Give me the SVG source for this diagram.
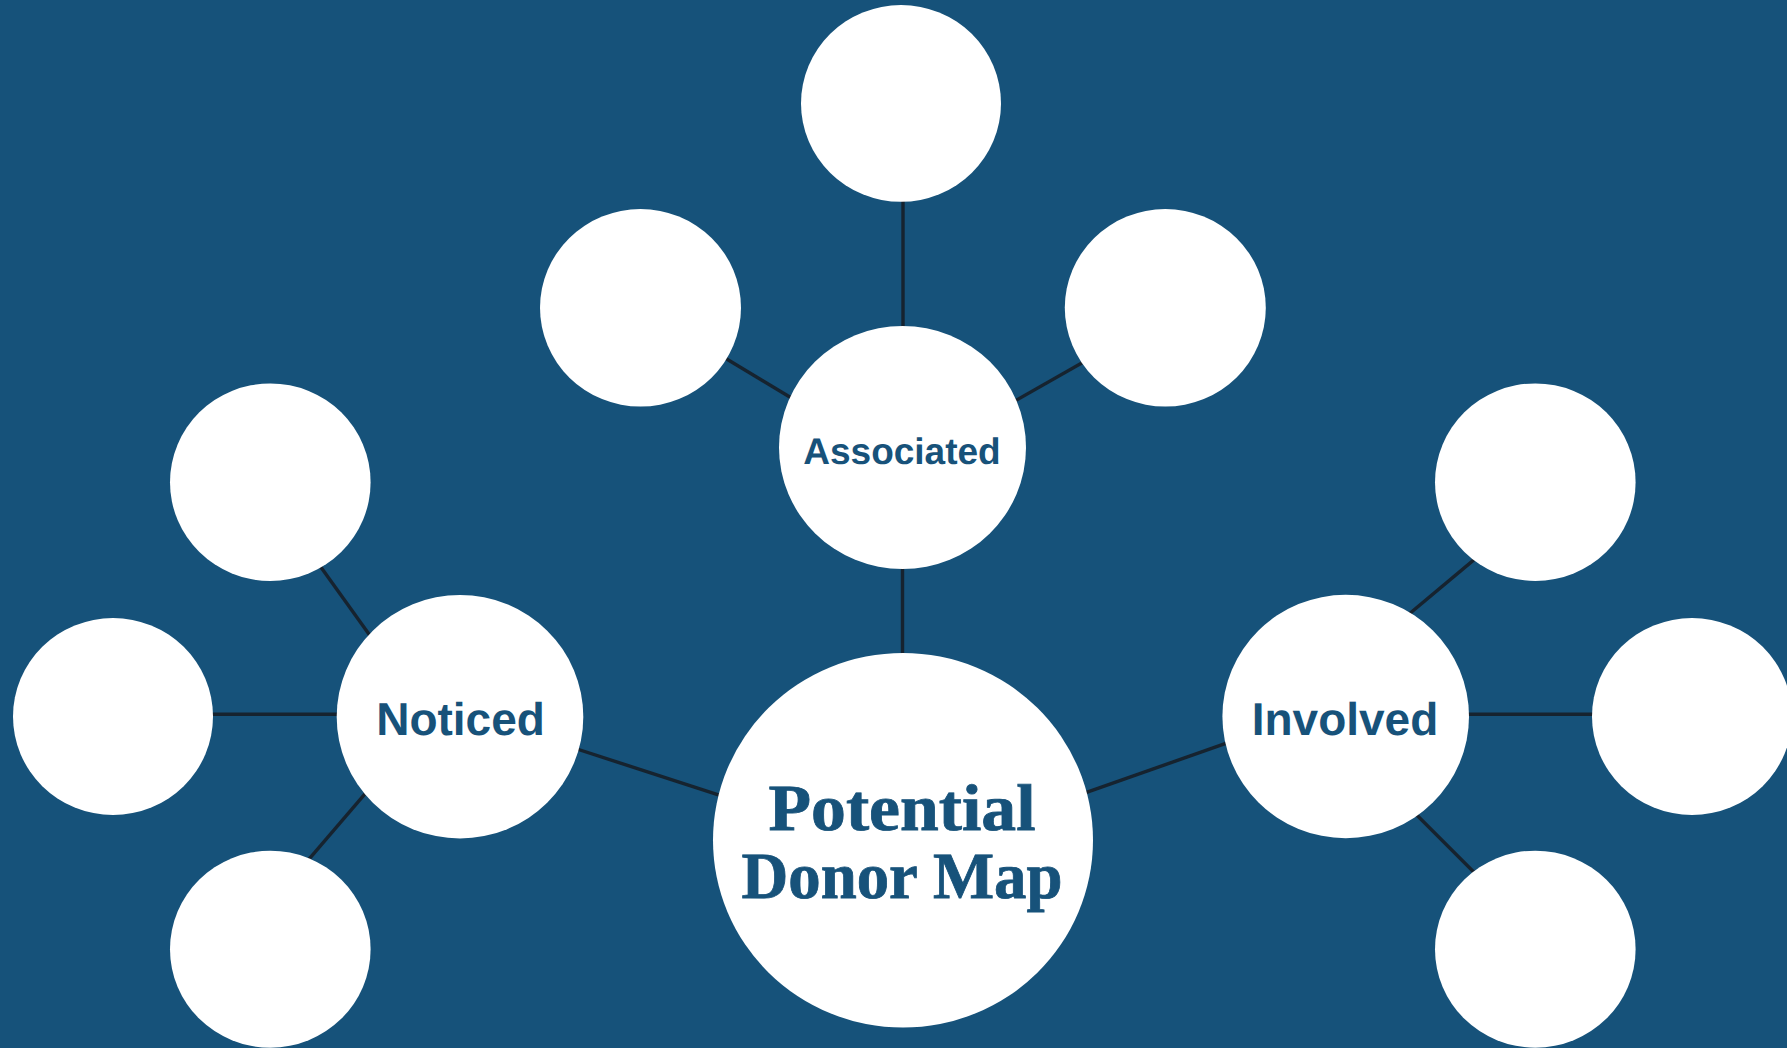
<svg xmlns="http://www.w3.org/2000/svg" width="1787" height="1048" viewBox="0 0 1787 1048">
  <style>
    .bg { fill: #16527a; }
    .node { fill: #ffffff; }
    .link { stroke: #16232f; stroke-width: 3.4; fill: none; }
    text { text-rendering: geometricPrecision; }
    .hub { font-family: "Liberation Sans", Arial, sans-serif; font-weight: bold; fill: #17527a; text-anchor: middle; }
    .title { font-family: "Liberation Serif", "Times New Roman", serif; font-weight: bold; fill: #17527a; stroke: #17527a; stroke-width: 0.8; text-anchor: middle; font-size: 66px; }
  </style>

  <rect class="bg" x="0" y="0" width="1787" height="1048"/>

  <!-- connectors; their ends are tucked under the circles -->
  <g id="connectors">
    <line class="link" x1="902.5" y1="800" x2="902.5" y2="500"/>
    <line class="link" x1="560" y1="743.5" x2="740" y2="801.9"/>
    <line class="link" x1="1068" y1="798.8" x2="1245" y2="736.7"/>
    <line class="link" x1="903" y1="400" x2="903" y2="150"/>
    <line class="link" x1="708" y1="347.7" x2="808" y2="408"/>
    <line class="link" x1="996" y1="411.7" x2="1102" y2="351.5"/>
    <line class="link" x1="307.7" y1="548.8" x2="382.3" y2="652.8"/>
    <line class="link" x1="160" y1="714.3" x2="400" y2="714.3"/>
    <line class="link" x1="293.8" y1="876.9" x2="380.2" y2="776.1"/>
    <line class="link" x1="1390" y1="630" x2="1490" y2="546.4"/>
    <line class="link" x1="1300" y1="714.3" x2="1640" y2="714.3"/>
    <line class="link" x1="1400" y1="798.3" x2="1490" y2="888.3"/>
  </g>

  <!-- central node -->
  <g id="potential-donor-map">
    <ellipse class="node" cx="903" cy="840.3" rx="190" ry="187.3"/>
    <text class="title" x="902" y="830" textLength="267" lengthAdjust="spacingAndGlyphs">Potential</text>
    <text class="title" x="902" y="898" textLength="321" lengthAdjust="spacingAndGlyphs">Donor Map</text>
  </g>

  <!-- second-level nodes -->
  <g id="associated">
    <ellipse class="node" cx="902.5" cy="447.5" rx="123.5" ry="121.5"/>
    <text class="hub" x="902" y="464" font-size="37">Associated</text>
  </g>
  <g id="noticed">
    <ellipse class="node" cx="460" cy="716.7" rx="123.3" ry="121.7"/>
    <text class="hub" x="460.5" y="735" font-size="46">Noticed</text>
  </g>
  <g id="involved">
    <ellipse class="node" cx="1345.7" cy="716.5" rx="123.3" ry="121.7"/>
    <text class="hub" x="1345" y="735" font-size="46">Involved</text>
  </g>

  <!-- empty leaf nodes -->
  <g id="associated-top"><ellipse class="node" cx="901" cy="103.4" rx="100" ry="98.4"/></g>
  <g id="associated-left"><ellipse class="node" cx="640.5" cy="307.8" rx="100.5" ry="98.8"/></g>
  <g id="associated-right"><ellipse class="node" cx="1165.3" cy="307.8" rx="100.5" ry="98.8"/></g>
  <g id="noticed-top"><ellipse class="node" cx="270.3" cy="482.2" rx="100.3" ry="98.8"/></g>
  <g id="noticed-left"><ellipse class="node" cx="113" cy="716.5" rx="100" ry="98.5"/></g>
  <g id="noticed-bottom"><ellipse class="node" cx="270.3" cy="949.2" rx="100.3" ry="98.5"/></g>
  <g id="involved-top"><ellipse class="node" cx="1535.3" cy="482.2" rx="100.3" ry="98.8"/></g>
  <g id="involved-right"><ellipse class="node" cx="1692" cy="716.5" rx="100" ry="98.5"/></g>
  <g id="involved-bottom"><ellipse class="node" cx="1535.3" cy="949.2" rx="100.3" ry="98.5"/></g>
</svg>
